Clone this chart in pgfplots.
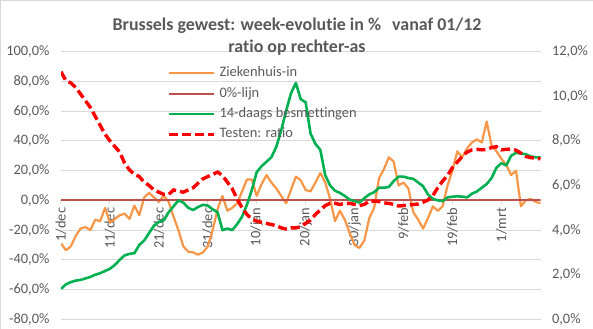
\documentclass[border=0pt]{standalone}
\usepackage{pgfplots}
\usepackage{pgfplotstable}
\pgfplotsset{compat=1.18}
\usepackage{fontspec}
\setmainfont{Carlito}[Ligatures={NoCommon}]
\definecolor{txt}{HTML}{595959}
\definecolor{grd}{HTML}{D9D9D9}
\definecolor{orng}{HTML}{F79646}
\definecolor{grn}{HTML}{00B050}
\definecolor{brn}{HTML}{C0504D}

\pgfplotstableread{
d zh bes nul
0 -29 -59.5 0
1 -33.5 -56.5 0
2 -31 -55 0
3 -24 -54 0
4 -19 -53.5 0
5 -18 -52.5 0
6 -20 -51.5 0
7 -13 -50 0
8 -14 -49 0
9 -5 -47.5 0
10 -15 -46 0
11 -12.5 -43.5 0
12 -10 -40 0
13 -9 -37 0
14 -12.5 -36 0
15 -3.5 -35.5 0
16 -10 -30 0
17 2 -27 0
18 5 -22 0
19 2 -17 0
20 -1 -14.5 0
21 3 -13.5 0
22 -1 -8 0
23 -11 -4 0
24 -20 0 0
25 -31 -1.5 0
26 -34.5 -5 0
27 -35 -6.5 0
28 -36.5 -4.5 0
29 -35 -3 0
30 -31 -3.5 0
31 -20 -6 0
32 -6 -8 0
33 3 -20 0
34 -7 -19 0
35 -5 -20 0
36 -2 -16 0
37 6 -11 0
38 14 -3 0
39 14 7 0
40 3 19 0
41 11 23 0
42 17 26 0
43 12 29 0
44 8 36 0
45 3 47 0
46 -2 60 0
47 7 72 0
48 16 79 0
49 13.5 68 0
50 7 66 0
51 6 45 0
52 12 38 0
53 18.5 34 0
54 12 17 0
55 1 10 0
56 -14 6.5 0
57 -7 5 0
58 -13 3 0
59 -22 0.5 0
60 -30 -0.5 0
61 -32 -1.5 0
62 -27 1.5 0
63 -12 4 0
64 -5 5.5 0
65 15 8.5 0
66 21 8.5 0
67 29 9 0
68 26 13 0
69 10 16 0
70 12 16 0
71 8 15 0
72 -8 14.5 0
73 -13 12 0
74 -19 9.5 0
75 -12 4 0
76 -4 1 0
77 -7 0 0
78 -4 -0.5 0
79 10 2 0
80 20 2.5 0
81 33 2.7 0
82 29 2.5 0
83 35 2 0
84 39 4.5 0
85 41 6 0
86 39 8.5 0
87 53 11 0
88 37 15 0
89 33 22 0
90 28 25 0
91 24 23.5 0
92 17 30 0
93 20 32 0
94 -4 31.5 0
95 0 31 0
96 1 29.5 0
97 -1 29 0
98 -2 28.8 0
}\leftdata

\pgfplotstableread{
d r
0 11.1
1 10.7
2 10.6
3 10.4
4 10.1
5 9.8
6 9.5
7 9.1
8 8.7
9 8.3
10 8.0
11 7.75
12 7.5
13 7.0
14 6.7
15 6.5
16 6.4
17 6.15
18 6.0
19 5.8
20 5.7
21 5.6
22 5.6
23 5.8
24 5.75
25 5.7
26 5.8
27 5.9
28 6.1
29 6.3
30 6.4
31 6.5
32 6.6
33 6.45
34 6.15
35 5.85
36 5.4
37 5.0
38 4.7
39 4.5
40 4.4
41 4.35
42 4.3
43 4.25
44 4.2
45 4.1
46 4.05
47 4.1
48 4.1
49 4.15
50 4.3
51 4.45
52 4.7
53 4.9
54 5.1
55 5.2
56 5.2
57 5.15
58 5.2
59 5.2
60 5.15
61 5.1
62 5.15
63 5.3
64 5.3
65 5.28
66 5.22
67 5.2
68 5.15
69 5.08
70 5.1
71 5.12
72 5.15
73 5.17
74 5.25
75 5.35
76 5.55
77 5.9
78 6.2
79 6.45
80 6.8
81 7.05
82 7.3
83 7.5
84 7.6
85 7.62
86 7.6
87 7.62
88 7.7
89 7.74
90 7.6
91 7.62
92 7.64
93 7.58
94 7.45
95 7.3
96 7.25
97 7.22
98 7.2
}\ratiodata

\newcommand{\tfont}{\fontsize{14.5}{17}\selectfont}

\begin{document}
\begin{tikzpicture}
\path[use as bounding box] (0,0) rectangle (593bp,329bp);
\draw[grd, line width=1bp] (0.5bp,0bp) -- (0.5bp,328.5bp) -- (593bp,328.5bp);

\begin{axis}[
  at={(61bp,9.7bp)}, anchor=south west,
  scale only axis, width=479.5bp, height=267.6bp,
  xmin=0, xmax=98, ymin=-80, ymax=100,
  axis x line*=middle, axis y line*=left,
  hide obscured x ticks=false,
  x axis line style={draw=none}, y axis line style={draw=none},
  xtick={0,10,...,90},
  xticklabels={1/dec,11/dec,21/dec,31/dec,10/jan,20/jan,30/jan,9/feb,19/feb,1/mrt},
  ytick={-80,-60,...,100},
  yticklabels={{-80,0\%},{-60,0\%},{-40,0\%},{-20,0\%},{0,0\%},{20,0\%},{40,0\%},{60,0\%},{80,0\%},{100,0\%}},
  ymajorgrids, grid style={grd, line width=1bp},
  tick label style={font=\tfont, text=txt},
  xticklabel style={rotate=90, anchor=east},
  yticklabel style={xshift=-4bp},
  ytick style={draw=none},
  xtick style={draw=grd, line width=1bp},
  tick align=outside, major tick length=4bp,
]
\addplot[orng, line width=2.2bp, line join=round] table[x=d, y=zh]{\leftdata};
\addplot[brn, line width=2.2bp] table[x=d, y=nul]{\leftdata};
\addplot[grn, line width=2.6bp, line join=round] table[x=d, y=bes]{\leftdata};
\end{axis}

\begin{axis}[
  at={(61bp,9.7bp)}, anchor=south west,
  scale only axis, width=479.5bp, height=267.6bp,
  xmin=0, xmax=98, ymin=0, ymax=12,
  hide x axis, axis y line*=right,
  y axis line style={draw=none},
  ytick={0,2,...,12},
  yticklabels={{0,0\%},{2,0\%},{4,0\%},{6,0\%},{8,0\%},{10,0\%},{12,0\%}},
  tick label style={font=\tfont, text=txt},
  yticklabel style={xshift=4bp},
  ytick style={draw=none},
  tick align=outside, major tick length=4bp,
  legend style={at={(0.221,0.9585)}, anchor=north west, draw=none, fill=none,
    inner sep=0pt, font=\tfont, text=txt, row sep=0pt,
    nodes={inner xsep=0pt, inner ysep=3.2bp, text height=10.5bp, text depth=3.5bp},
    /tikz/every odd column/.append style={column sep=4bp}},
  legend cell align=left,
  legend image code/.code={\draw[#1] (0bp,0bp) -- (45bp,0bp);},
]
\addlegendimage{orng, line width=2.2bp}
\addlegendentry{Ziekenhuis-in}
\addlegendimage{brn, line width=2.2bp}
\addlegendentry{0\%-lijn}
\addlegendimage{grn, line width=2.6bp}
\addlegendentry{14-daags besmettingen}
\addplot[red, line width=3.4bp, dash pattern=on 9bp off 4bp] table[x=d, y=r]{\ratiodata};
\addlegendentry{Testen: ratio}
\end{axis}

\node[anchor=base, text=txt, font=\fontsize{18}{21}\selectfont\bfseries] at (297bp,298.3bp) {Brussels gewest: week-evolutie in \%\hspace{11bp}vanaf 01/12};
\node[anchor=base, text=txt, font=\fontsize{18}{21}\selectfont\bfseries] at (297bp,276.3bp) {ratio op rechter-as};
\end{tikzpicture}
\end{document}
